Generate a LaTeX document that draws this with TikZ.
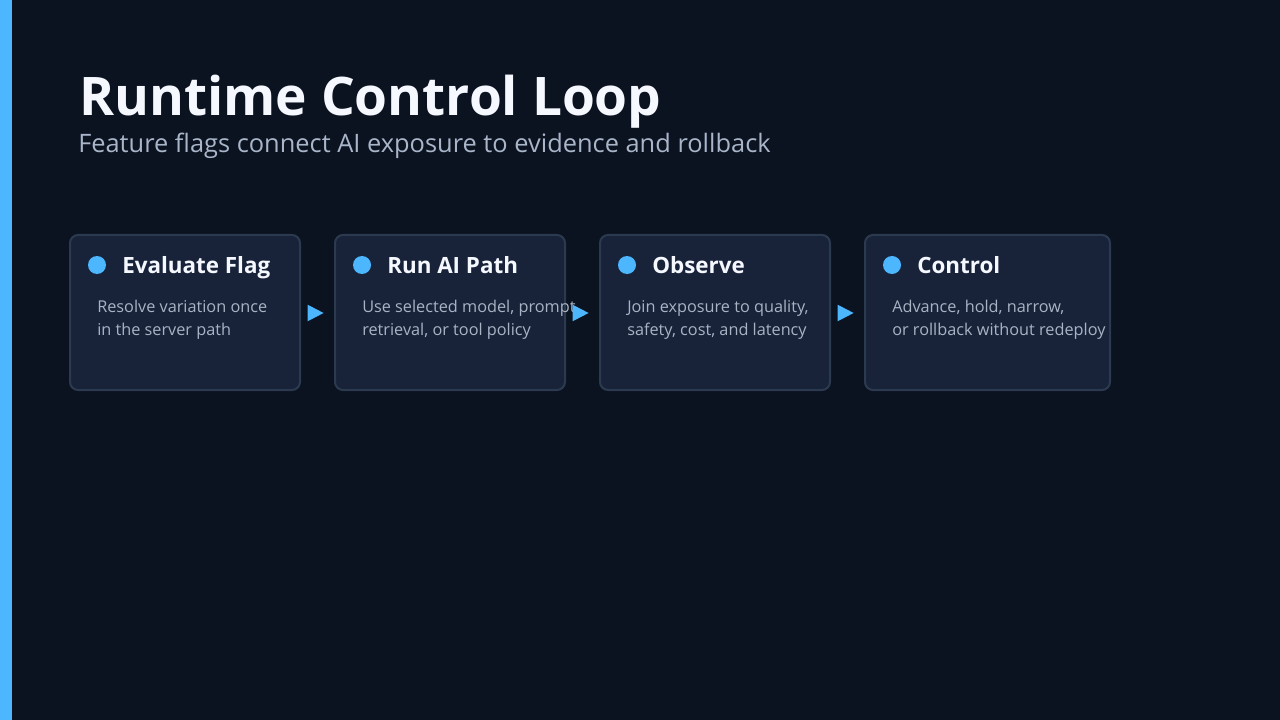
\documentclass[tikz,border=0pt]{standalone}
\usepackage{fontspec}
\setmainfont{Open Sans}
\usetikzlibrary{arrows.meta}
\definecolor{bg}{HTML}{0B1220}
\definecolor{accent}{HTML}{4CB6FF}
\definecolor{cardfill}{HTML}{18233A}
\definecolor{cardline}{HTML}{2C3A50}
\definecolor{titlecol}{HTML}{F5F8FF}
\definecolor{subcol}{HTML}{A9B6C9}
\definecolor{bodycol}{HTML}{A8B3C4}
\tikzset{
  card/.style={draw=cardline, line width=1.5pt, fill=cardfill, rounded corners=6pt},
  dot/.style={circle, fill=accent, minimum size=13.5pt, inner sep=0pt},
  cardtitle/.style={anchor=base west, inner sep=0pt, text=titlecol, font=\fontsize{16.8}{20}\selectfont\bfseries},
  cardbody/.style={anchor=base west, inner sep=0pt, text=bodycol, font=\fontsize{12.2}{17}\selectfont},
  flow/.style={draw=accent, line width=1.5pt, -{Triangle[length=12pt,width=12pt]}},
}
\begin{document}
\begin{tikzpicture}[x=0.75pt,y=-0.75pt]
\fill[bg] (0,0) rectangle (1280,720);
\useasboundingbox (0,0) rectangle (1280,720);
\fill[accent] (0,0) rectangle (12,720);
\node[anchor=base west, inner sep=0pt, text=titlecol, font=\fontsize{39.9}{48}\selectfont\bfseries] (title) at (79,116) {Runtime Control Loop};
\node[anchor=base west, inner sep=0pt, text=subcol, font=\fontsize{19.05}{24}\selectfont] (subtitle) at (78,153) {Feature flags connect AI exposure to evidence and rollback};
% cards
\foreach \i/\xl/\xr/\t/\ba/\bb in {
  1/70/300/Evaluate Flag/Resolve variation once/in the server path,
  2/335/565/Run AI Path/{Use selected model, prompt,}/{retrieval, or tool policy},
  3/600/830/Observe/{Join exposure to quality,}/{safety, cost, and latency},
  4/865/1110/Control/{Advance, hold, narrow,}/or rollback without redeploy}{
  \draw[card] (\xl,235) rectangle (\xr,390);
  \coordinate (c\i w) at (\xl,313);
  \coordinate (c\i e) at (\xr,313);
  \node[dot] (dot\i) at (\xl+27,265) {};
  \node[cardtitle] (t\i) at (\xl+52,273) {\t};
  \node[cardbody] (ba\i) at (\xl+27,312) {\ba};
  \node[cardbody] (bb\i) at (\xl+27,335) {\bb};
}
\foreach \a/\b in {1/2,2/3,3/4}{
  \draw[flow] ([xshift=6pt]c\a e) -- ([xshift=-8.5pt]c\b w);
}
\end{tikzpicture}
\end{document}
